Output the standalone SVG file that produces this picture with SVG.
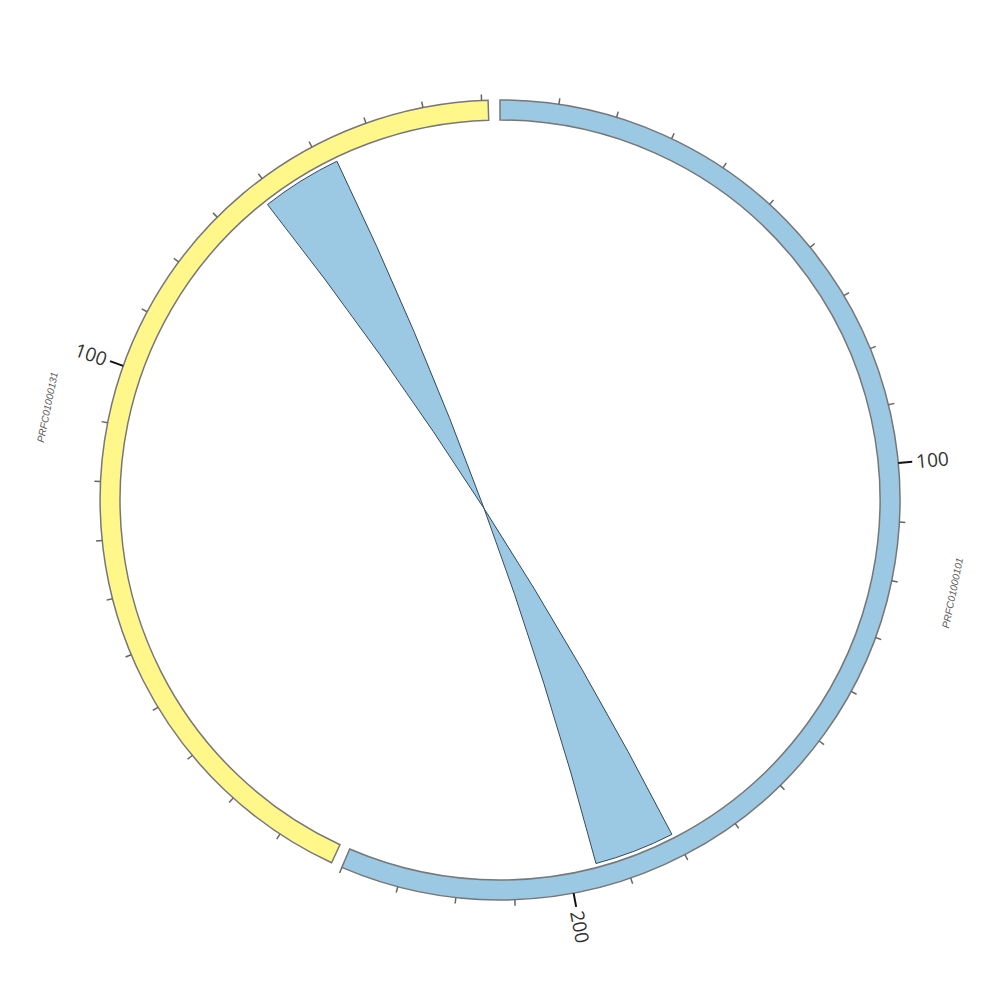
<svg xmlns="http://www.w3.org/2000/svg" width="1000" height="1000" viewBox="0 0 1000 1000">
<style>
.ideo{stroke:#777;stroke-width:1.5;stroke-linejoin:miter}
.blue{fill:#9bc8e3}
.yellow{fill:#fff78a}
.link{fill:#9bc8e3;stroke:#34495a;stroke-width:1}
.minor line{stroke:#666;stroke-width:1.5}
.major line{stroke:#111;stroke-width:2}
.tl{font-family:"Open Sans","Liberation Sans",sans-serif;font-size:19px;fill:#333;dominant-baseline:central}
.cl{font-family:"Liberation Sans",sans-serif;font-size:10px;font-style:italic;fill:#555;text-anchor:middle;dominant-baseline:central}
</style>
<rect width="1000" height="1000" fill="#fff"/>
<g id="links">
<path class="link" d="M336.9,161.2 Q500,500 596,863.5 A376,376 0 0 0 671.9,834.4 Q500,500 267.5,204.5 A376,376 0 0 1 336.9,161.2 Z"/>
</g>
<g id="PRFC01000101">
<path class="ideo blue" d="M500,100 A400,400 0 1 1 341.8,867.4 L349.7,849 A380,380 0 1 0 500,120 Z"/>
<text class="cl" x="952.6" y="592.9" transform="rotate(-78.5 952.6 592.9)">PRFC01000101</text>
</g>
<g id="PRFC01000131">
<path class="ideo yellow" d="M331.6,862.8 A400,400 0 0 1 488.1,100.2 L488.7,120.2 A380,380 0 0 0 340,844.7 Z"/>
<text class="cl" x="47.4" y="407.2" transform="rotate(-78.5 47.4 407.2)">PRFC01000131</text>
</g>
<g id="ticks">
<g class="minor">
<line x1="500" y1="100" x2="500" y2="94" transform="rotate(8.47 500 500)"/>
<line x1="500" y1="100" x2="500" y2="94" transform="rotate(16.94 500 500)"/>
<line x1="500" y1="100" x2="500" y2="94" transform="rotate(25.41 500 500)"/>
<line x1="500" y1="100" x2="500" y2="94" transform="rotate(33.88 500 500)"/>
<line x1="500" y1="100" x2="500" y2="94" transform="rotate(42.35 500 500)"/>
<line x1="500" y1="100" x2="500" y2="94" transform="rotate(50.82 500 500)"/>
<line x1="500" y1="100" x2="500" y2="94" transform="rotate(59.29 500 500)"/>
<line x1="500" y1="100" x2="500" y2="94" transform="rotate(67.76 500 500)"/>
<line x1="500" y1="100" x2="500" y2="94" transform="rotate(76.23 500 500)"/>
<line x1="500" y1="100" x2="500" y2="94" transform="rotate(93.17 500 500)"/>
<line x1="500" y1="100" x2="500" y2="94" transform="rotate(101.64 500 500)"/>
<line x1="500" y1="100" x2="500" y2="94" transform="rotate(110.11 500 500)"/>
<line x1="500" y1="100" x2="500" y2="94" transform="rotate(118.58 500 500)"/>
<line x1="500" y1="100" x2="500" y2="94" transform="rotate(127.05 500 500)"/>
<line x1="500" y1="100" x2="500" y2="94" transform="rotate(135.52 500 500)"/>
<line x1="500" y1="100" x2="500" y2="94" transform="rotate(143.99 500 500)"/>
<line x1="500" y1="100" x2="500" y2="94" transform="rotate(152.46 500 500)"/>
<line x1="500" y1="100" x2="500" y2="94" transform="rotate(160.93 500 500)"/>
<line x1="500" y1="100" x2="500" y2="94" transform="rotate(177.87 500 500)"/>
<line x1="500" y1="100" x2="500" y2="94" transform="rotate(186.34 500 500)"/>
<line x1="500" y1="100" x2="500" y2="94" transform="rotate(194.81 500 500)"/>
<line x1="500" y1="100" x2="500" y2="94" transform="rotate(203.28 500 500)"/>
<line x1="500" y1="100" x2="500" y2="94" transform="rotate(213.37 500 500)"/>
<line x1="500" y1="100" x2="500" y2="94" transform="rotate(221.84 500 500)"/>
<line x1="500" y1="100" x2="500" y2="94" transform="rotate(230.31 500 500)"/>
<line x1="500" y1="100" x2="500" y2="94" transform="rotate(238.78 500 500)"/>
<line x1="500" y1="100" x2="500" y2="94" transform="rotate(247.25 500 500)"/>
<line x1="500" y1="100" x2="500" y2="94" transform="rotate(255.72 500 500)"/>
<line x1="500" y1="100" x2="500" y2="94" transform="rotate(264.19 500 500)"/>
<line x1="500" y1="100" x2="500" y2="94" transform="rotate(272.66 500 500)"/>
<line x1="500" y1="100" x2="500" y2="94" transform="rotate(281.13 500 500)"/>
<line x1="500" y1="100" x2="500" y2="94" transform="rotate(298.07 500 500)"/>
<line x1="500" y1="100" x2="500" y2="94" transform="rotate(306.54 500 500)"/>
<line x1="500" y1="100" x2="500" y2="94" transform="rotate(315.01 500 500)"/>
<line x1="500" y1="100" x2="500" y2="94" transform="rotate(323.48 500 500)"/>
<line x1="500" y1="100" x2="500" y2="94" transform="rotate(331.95 500 500)"/>
<line x1="500" y1="100" x2="500" y2="94" transform="rotate(340.42 500 500)"/>
<line x1="500" y1="100" x2="500" y2="94" transform="rotate(348.89 500 500)"/>
<line x1="500" y1="100" x2="500" y2="94" transform="rotate(357.36 500 500)"/>
</g>
<g class="major">
<line x1="500" y1="100" x2="500" y2="86" transform="rotate(84.7 500 500)"/>
<line x1="500" y1="100" x2="500" y2="86" transform="rotate(169.4 500 500)"/>
<line x1="500" y1="100" x2="500" y2="86" transform="rotate(289.6 500 500)"/>
</g>
<text class="tl" x="918" y="500" transform="rotate(-5.3 500 500)">100</text>
<text class="tl" x="918" y="500" transform="rotate(79.4 500 500)">200</text>
<text class="tl" x="82" y="500" text-anchor="end" transform="rotate(19.6 500 500)">100</text>
</g>
</svg>
